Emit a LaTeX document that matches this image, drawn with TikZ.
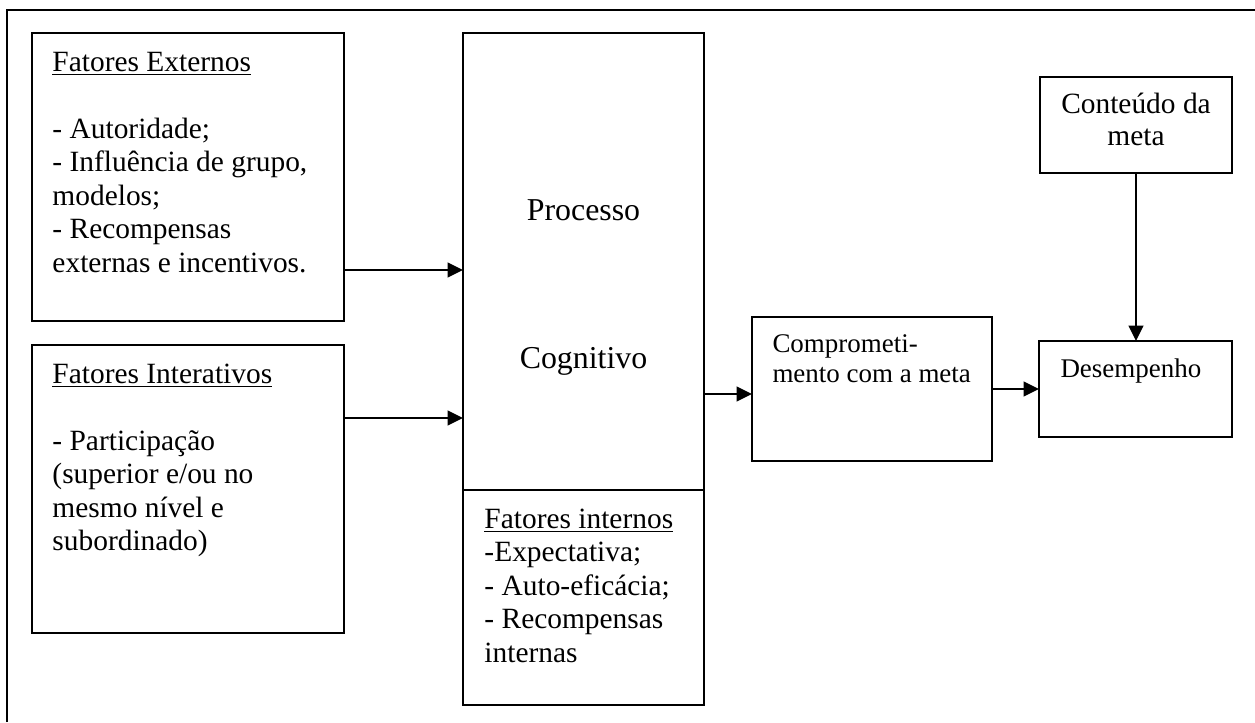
\documentclass[tikz,border=0pt]{standalone}
\usepackage{fontspec}
\setmainfont{Liberation Serif}
\usetikzlibrary{arrows.meta}
% left- and centre-aligned line stacks whose baseline is that of the first line
\newcommand{\lstack}[1]{\begin{tabular}[t]{@{}l@{}}#1\end{tabular}}
\newcommand{\cstack}[1]{\begin{tabular}[t]{@{}c@{}}#1\end{tabular}}
\newcommand{\pu}{0.408pt}

\begin{document}
\begin{tikzpicture}[x=0.408pt, y=-0.408pt,
  box/.style={draw, line width=0.8pt, anchor=north west, inner sep=0pt, outer sep=0pt},
  txt/.style={anchor=base west, inner sep=0pt, font=\fontsize{12}{13.7}\selectfont},
  bigtxt/.style={anchor=base, inner sep=0pt, font=\fontsize{13}{15}\selectfont},
  smalltxt/.style={anchor=base west, inner sep=0pt, font=\fontsize{11}{12.3}\selectfont},
  arr/.style={line width=0.8pt, -{Triangle[length=6.3pt,width=6pt]}}]
\useasboundingbox (0,0) rectangle (1255,722);

% outer frame (only its top and left sides fall on the page)
\draw[line width=0.8pt] (7,722) -- (7,10) -- (1255,10);

% boxes
\node[box, minimum width=312*\pu, minimum height=288*\pu] (ext) at (32,33) {};
\node[box, minimum width=312*\pu, minimum height=288*\pu] (int) at (32,345) {};
\node[box, minimum width=241*\pu, minimum height=457*\pu] (proc) at (463,33) {};
\node[box, minimum width=241*\pu, minimum height=215*\pu] (fint) at (463,490) {};
\node[box, minimum width=240*\pu, minimum height=144*\pu] (com) at (752,317) {};
\node[box, minimum width=193*\pu, minimum height=96*\pu] (des) at (1039,341) {};
\node[box, minimum width=192*\pu, minimum height=96*\pu] (cont) at (1040,77) {};

% texts
\node[txt] (extT) at (52,71) {\lstack{\underline{Fatores Externos}\\ \\ - Autoridade;\\ - Influência de grupo,\\ modelos;\\ - Recompensas\\ externas e incentivos.}};
\node[txt] (intT) at (52,383) {\lstack{\underline{Fatores Interativos}\\ \\ - Participação\\ (superior e/ou no\\ mesmo nível e\\ subordinado)}};
\node[bigtxt] (procT) at (583.5,220) {Processo};
\node[bigtxt] (cogT) at (583.5,368) {Cognitivo};
\node[txt] (fintT) at (484,528) {\lstack{\underline{Fatores internos}\\ -Expectativa;\\ - Auto-eficácia;\\ - Recompensas\\ internas}};
\node[smalltxt] (comT) at (772,352) {\lstack{Comprometi-\\ mento com a meta}};
\node[smalltxt] (desT) at (1060,377) {Desempenho};
\node[anchor=base, inner sep=0pt, font=\fontsize{12}{13.1}\selectfont] (contT) at (1136,113) {\cstack{Conteúdo da\\ meta}};

% connectors
\coordinate (ya) at (0,270);
\coordinate (yb) at (0,418);
\coordinate (yc) at (0,394);
\coordinate (yd) at (0,389);
\draw[arr] (ext.east |- ya) -- (proc.west |- ya);
\draw[arr] (int.east |- yb) -- (proc.west |- yb);
\draw[arr] (proc.east |- yc) -- (com.west |- yc);
\draw[arr] (com.east |- yd) -- (des.west |- yd);
\draw[arr] (cont.south) -- (cont.south |- des.north);
\end{tikzpicture}
\end{document}
